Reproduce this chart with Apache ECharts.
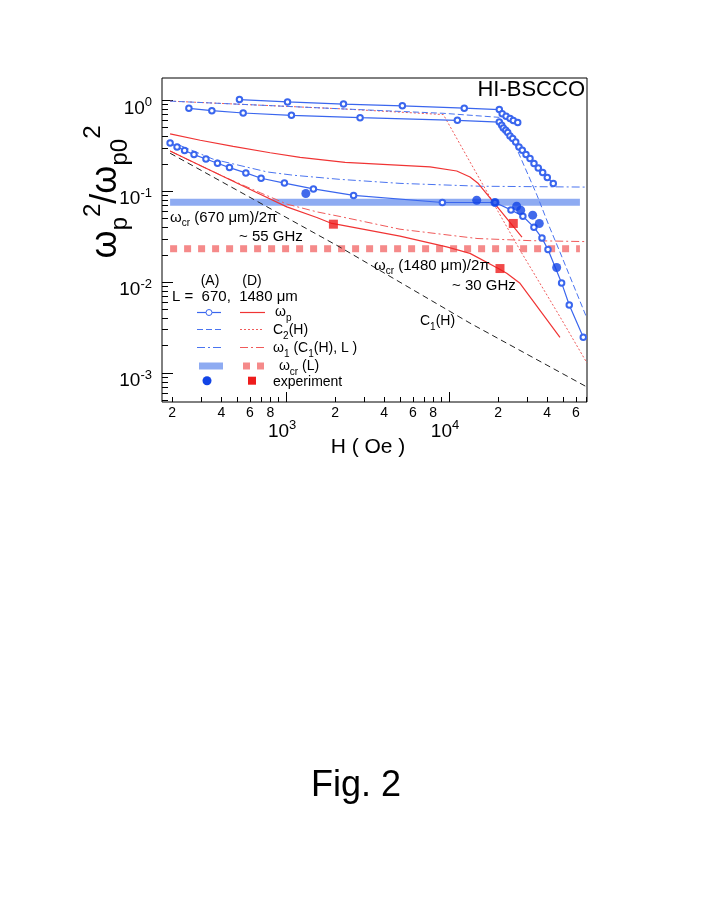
<!DOCTYPE html>
<html>
<head>
<meta charset="utf-8">
<script src="https://cdn.jsdelivr.net/npm/echarts@6/dist/echarts.min.js"></script>
<style>
html, body { margin: 0; padding: 0; background: #fff; }
#chart { width: 708px; height: 917px; }
</style>
</head>
<body>
<div id="chart"></div>
<script>
// H (Oe) vs wp^2/wp0^2
const wpA1 = [[517,1.02],[1020,0.96],[2250,0.91],[5170,0.87],[12400,0.82],[20350,0.79],[21200,0.71],[22400,0.67],[23700,0.63],[24800,0.60],[26400,0.57]];
const wpA2 = [[253,0.817],[350,0.770],[545,0.725],[1078,0.684],[2844,0.645],[11250,0.603],[20350,0.577],[21050,0.531],[21540,0.496],[22280,0.468],[22920,0.442],[23670,0.405],[24590,0.379],[25660,0.348],[26880,0.307],[28160,0.282],[29680,0.253],[31410,0.229],[33230,0.2015],[35300,0.180],[37570,0.1605],[40100,0.1414],[43640,0.1215]];
const wpA3 = [[194,0.34],[214,0.307],[238,0.28],[272,0.253],[322,0.226],[379,0.203],[449,0.182],[566,0.159],[702,0.139],[976,0.123],[1471,0.106],[2595,0.090],[9100,0.0751],[19150,0.0751],[24000,0.0623],[28400,0.0531],[33200,0.0402],[37200,0.0305],[40500,0.0228],[49100,0.0098],[54700,0.0056],[66700,0.00247]];
const c2A = [[194,0.98],[2145,0.807],[9190,0.72],[20260,0.65],[24700,0.364],[34670,0.0904],[41650,0.0392],[47970,0.0214],[70250,0.0040]];
const w1A = [[213,0.33],[357,0.225],[765,0.163],[1104,0.150],[2145,0.135],[5000,0.122],[15500,0.1135],[70250,0.111]];
const wpD1 = [[194,0.428],[297,0.3635],[473,0.312],[798,0.265],[1219,0.236],[2301,0.208],[7645,0.185],[11150,0.167],[13450,0.1436],[15130,0.1215],[20550,0.0618],[24700,0.0412],[28040,0.0312]];
const wpD2 = [[194,0.277],[270,0.208],[433,0.139],[693,0.0927],[1010,0.0672],[1543,0.0514],[1907,0.0442],[2145,0.0426],[5000,0.032],[9680,0.0244],[13450,0.0207],[20070,0.0141],[22600,0.0125],[27270,0.0097],[47970,0.00247]];
const c2D = [[194,0.98],[2145,0.807],[9230,0.697],[13450,0.21],[27270,0.0225],[47970,0.00416],[70250,0.00129]];
const w1D = [[194,0.277],[269,0.208],[435,0.139],[693,0.0963],[1014,0.072],[1550,0.0592],[2145,0.0527],[5000,0.0382],[14850,0.0302],[31410,0.0286],[70250,0.0279]];
const c1 = [[194,0.262],[2145,0.0242],[13450,0.00354],[70250,0.000702]];
const crA = [[194,0.0757],[63600,0.0757]];
const crD = [[194,0.0233],[63600,0.0233]];
const expA = [[1321,0.0943],[14790,0.0796],[19150,0.0751],[26020,0.0684],[27540,0.0618],[32620,0.0545],[35810,0.0442],[45780,0.0145]];
const expD = [[1951,0.0434],[20550,0.0141],[24800,0.0442]];

// ticks
const xMajor = [1000, 10000];
const xMinor = [200,300,400,500,600,700,800,900,2000,3000,4000,5000,6000,7000,8000,9000,20000,30000,40000,50000,60000,70000];
const xMinorLabels = [200,400,600,800,2000,4000,6000,8000,20000,40000,60000];
const yMajor = [0.001, 0.01, 0.1, 1];
const yMinor = [0.0005,0.0006,0.0007,0.0008,0.0009,0.002,0.003,0.004,0.005,0.006,0.007,0.008,0.009,0.02,0.03,0.04,0.05,0.06,0.07,0.08,0.09,0.2,0.3,0.4,0.5,0.6,0.7,0.8,0.9];

const FONT = '"Liberation Sans", Arial, Helvetica, sans-serif';
const BLUE = '#3a66ee', BLUE_DOT = '#1244e6', RED = '#f03434', RED_SQ = '#ee1c1c';

function rich(fs, color) {
    const s = Math.round(fs * 0.68);
    const p = Math.round(fs * 0.2);
    const base = { fontFamily: FONT, color: color, fill: color, verticalAlign: 'top' };
    return {
        t: Object.assign({ fontSize: fs, lineHeight: fs + 2, padding: [p, 0, 0, 0] }, base),
        sub: Object.assign({ fontSize: s, lineHeight: s, padding: [p + Math.round(fs * 0.55), 0, 0, 0] }, base),
        sup: Object.assign({ fontSize: s, lineHeight: s, padding: [0, 0, 0, 0] }, base)
    };
}

function txt(x, y, text, fs, align) {
    return { type: 'text', x: x, y: y, z: 100,
        style: { text: text, rich: rich(fs || 14, '#000'), align: align || 'left', verticalAlign: 'middle' } };
}
function seg(x1, y1, x2, y2, color, dash, w) {
    return { type: 'line', z: 100, shape: { x1: x1, y1: y1, x2: x2, y2: y2 },
        style: { stroke: color, lineWidth: w || 1, lineDash: dash || null } };
}

function line(data, color, dash, width, z) {
    return { type: 'line', data: data, symbol: 'none', z: z || 3,
        lineStyle: { color: color, width: width || 1, type: dash || 'solid' } };
}
function circles(data) {
    return { type: 'line', data: data, symbol: 'emptyCircle', symbolSize: 5.5, z: 4,
        itemStyle: { color: BLUE, borderWidth: 1 },
        lineStyle: { color: BLUE, width: 1.2 } };
}

const supLabel = {
    b: { fontSize: 19, lineHeight: 19, padding: [8, 0, 0, 0], verticalAlign: 'top', fontFamily: FONT, color: '#000' },
    s: { fontSize: 13, lineHeight: 13, padding: [5, 0, 0, 0], verticalAlign: 'top', fontFamily: FONT, color: '#000' }
};
function powLabel(v) {
    return '{b|10}{s|' + Math.round(Math.log10(v)) + '}';
}
function lead(v) {
    return String(Math.round(v / Math.pow(10, Math.floor(Math.log10(v) + 1e-9))));
}

const xBase = { type: 'log', min: 173, max: 70300, gridIndex: 0, position: 'bottom',
    axisLine: { show: false }, splitLine: { show: false }, minorTick: { show: false } };
const yBase = { type: 'log', min: 0.00048, max: 1.76, gridIndex: 0, position: 'left',
    axisLine: { show: false }, splitLine: { show: false }, minorTick: { show: false } };

const chart = echarts.init(document.getElementById('chart'));
chart.setOption({
    animation: false,
    backgroundColor: '#fff',
    grid: { left: 162, top: 78, width: 425, height: 324, show: true, borderColor: '#000', borderWidth: 1, backgroundColor: 'transparent' },
    xAxis: [
        Object.assign({}, xBase, {
            axisTick: { inside: true, length: 10, customValues: xMajor, lineStyle: { color: '#000' } },
            axisLabel: { customValues: xMajor, margin: 12, formatter: powLabel, rich: supLabel, padding: [0, 8, 0, 0] }
        }),
        Object.assign({}, xBase, {
            axisTick: { inside: true, length: 5, customValues: xMinor, lineStyle: { color: '#000' } },
            axisLabel: { customValues: xMinorLabels, margin: 4, formatter: lead, fontSize: 14, fontFamily: FONT, color: '#000' }
        })
    ],
    yAxis: [
        Object.assign({}, yBase, {
            axisTick: { inside: true, length: 11, customValues: yMajor, lineStyle: { color: '#000' } },
            axisLabel: { customValues: yMajor, margin: 10, formatter: powLabel, rich: supLabel }
        }),
        Object.assign({}, yBase, {
            axisTick: { inside: true, length: 6, customValues: yMinor, lineStyle: { color: '#000' } },
            axisLabel: { show: false }
        })
    ],
    series: [
        line(crA, '#8eabf2', 'solid', 7, 1),
        line(crD, '#f58a8a', [7, 7], 7, 1),
        line(c1, '#222', [6, 4], 1),
        line(c2D, '#f05a5a', [2, 2], 1),
        line(c2A, '#4a74f0', [6, 3], 1),
        line(w1A, '#4a74f0', [8, 3, 2, 3], 1),
        line(w1D, '#f05a5a', [8, 3, 2, 3], 1),
        line(wpD1, RED, 'solid', 1.2),
        line(wpD2, RED, 'solid', 1.2),
        circles(wpA1),
        circles(wpA2),
        circles(wpA3),
        { type: 'scatter', data: expA, symbol: 'circle', symbolSize: 9, z: 6, itemStyle: { color: BLUE_DOT } },
        { type: 'scatter', data: expD, symbol: 'rect', symbolSize: 9, z: 6, itemStyle: { color: RED_SQ } }
    ],
    graphic: { elements: [
        { type: 'text', right: 708 - 585, top: 79, z: 100,
          style: { text: 'HI-BSCCO', fontSize: 22, fontFamily: FONT, fill: '#000' } },
        { type: 'text', x: 100, y: 192, rotation: Math.PI / 2, z: 100,
          style: { text: '{t|ω}{sub|p}{sup|2}{t|/ω}{sub|p0}{sup|2}', rich: rich(36, '#000'), align: 'center', verticalAlign: 'middle' } },
        { type: 'text', x: 368, y: 447, z: 100,
          style: { text: 'H ( Oe )', fontSize: 21, fontFamily: FONT, fill: '#000', align: 'center', verticalAlign: 'middle' } },
        { type: 'text', x: 356, y: 786, z: 100,
          style: { text: 'Fig. 2', fontSize: 36, fontFamily: FONT, fill: '#000', align: 'center', verticalAlign: 'middle' } },

        txt(170, 216, '{t|ω}{sub|cr}{t| (670 μm)/2π}', 15),
        txt(239, 235, '{t|~ 55 GHz}', 15),
        txt(374, 264, '{t|ω}{sub|cr}{t| (1480 μm)/2π}', 15),
        txt(452, 284, '{t|~ 30 GHz}', 15),
        txt(420, 319, '{t|C}{sub|1}{t|(H)}', 14),

        // legend
        txt(210, 279, '{t|(A)}', 14, 'center'),
        txt(252, 279, '{t|(D)}', 14, 'center'),
        txt(172, 295, '{t|L =  670,  1480 μm}', 15),
        seg(197, 312.5, 221, 312.5, BLUE, null, 1.2),
        { type: 'circle', z: 101, shape: { cx: 209, cy: 312.5, r: 3 }, style: { fill: '#fff', stroke: BLUE, lineWidth: 1 } },
        seg(240, 312.5, 265, 312.5, RED, null, 1.2),
        txt(275, 310, '{t|ω}{sub|p}', 14),
        seg(197, 329.5, 221, 329.5, '#4a74f0', [6, 3]),
        seg(240, 329.5, 264, 329.5, '#f05a5a', [2, 2]),
        txt(273, 328, '{t|C}{sub|2}{t|(H)}', 14),
        seg(197, 347.5, 221, 347.5, '#4a74f0', [8, 3, 2, 3]),
        seg(240, 347.5, 265, 347.5, '#f05a5a', [8, 3, 2, 3]),
        txt(273, 346, '{t|ω}{sub|1}{t| (C}{sub|1}{t|(H), L )}', 14),
        { type: 'rect', z: 100, shape: { x: 199, y: 362.5, width: 24, height: 7 }, style: { fill: '#8eabf2' } },
        { type: 'rect', z: 100, shape: { x: 243, y: 362.5, width: 7, height: 7 }, style: { fill: '#f58a8a' } },
        { type: 'rect', z: 100, shape: { x: 257, y: 362.5, width: 7, height: 7 }, style: { fill: '#f58a8a' } },
        txt(275, 364, '{t| ω}{sub|cr}{t| (L)}', 14),
        { type: 'circle', z: 100, shape: { cx: 207, cy: 380.7, r: 4.5 }, style: { fill: BLUE_DOT } },
        { type: 'rect', z: 100, shape: { x: 248, y: 376.7, width: 8, height: 8 }, style: { fill: RED_SQ } },
        txt(273, 380, '{t|experiment}', 14)
    ] }
});
</script>
</body>
</html>
